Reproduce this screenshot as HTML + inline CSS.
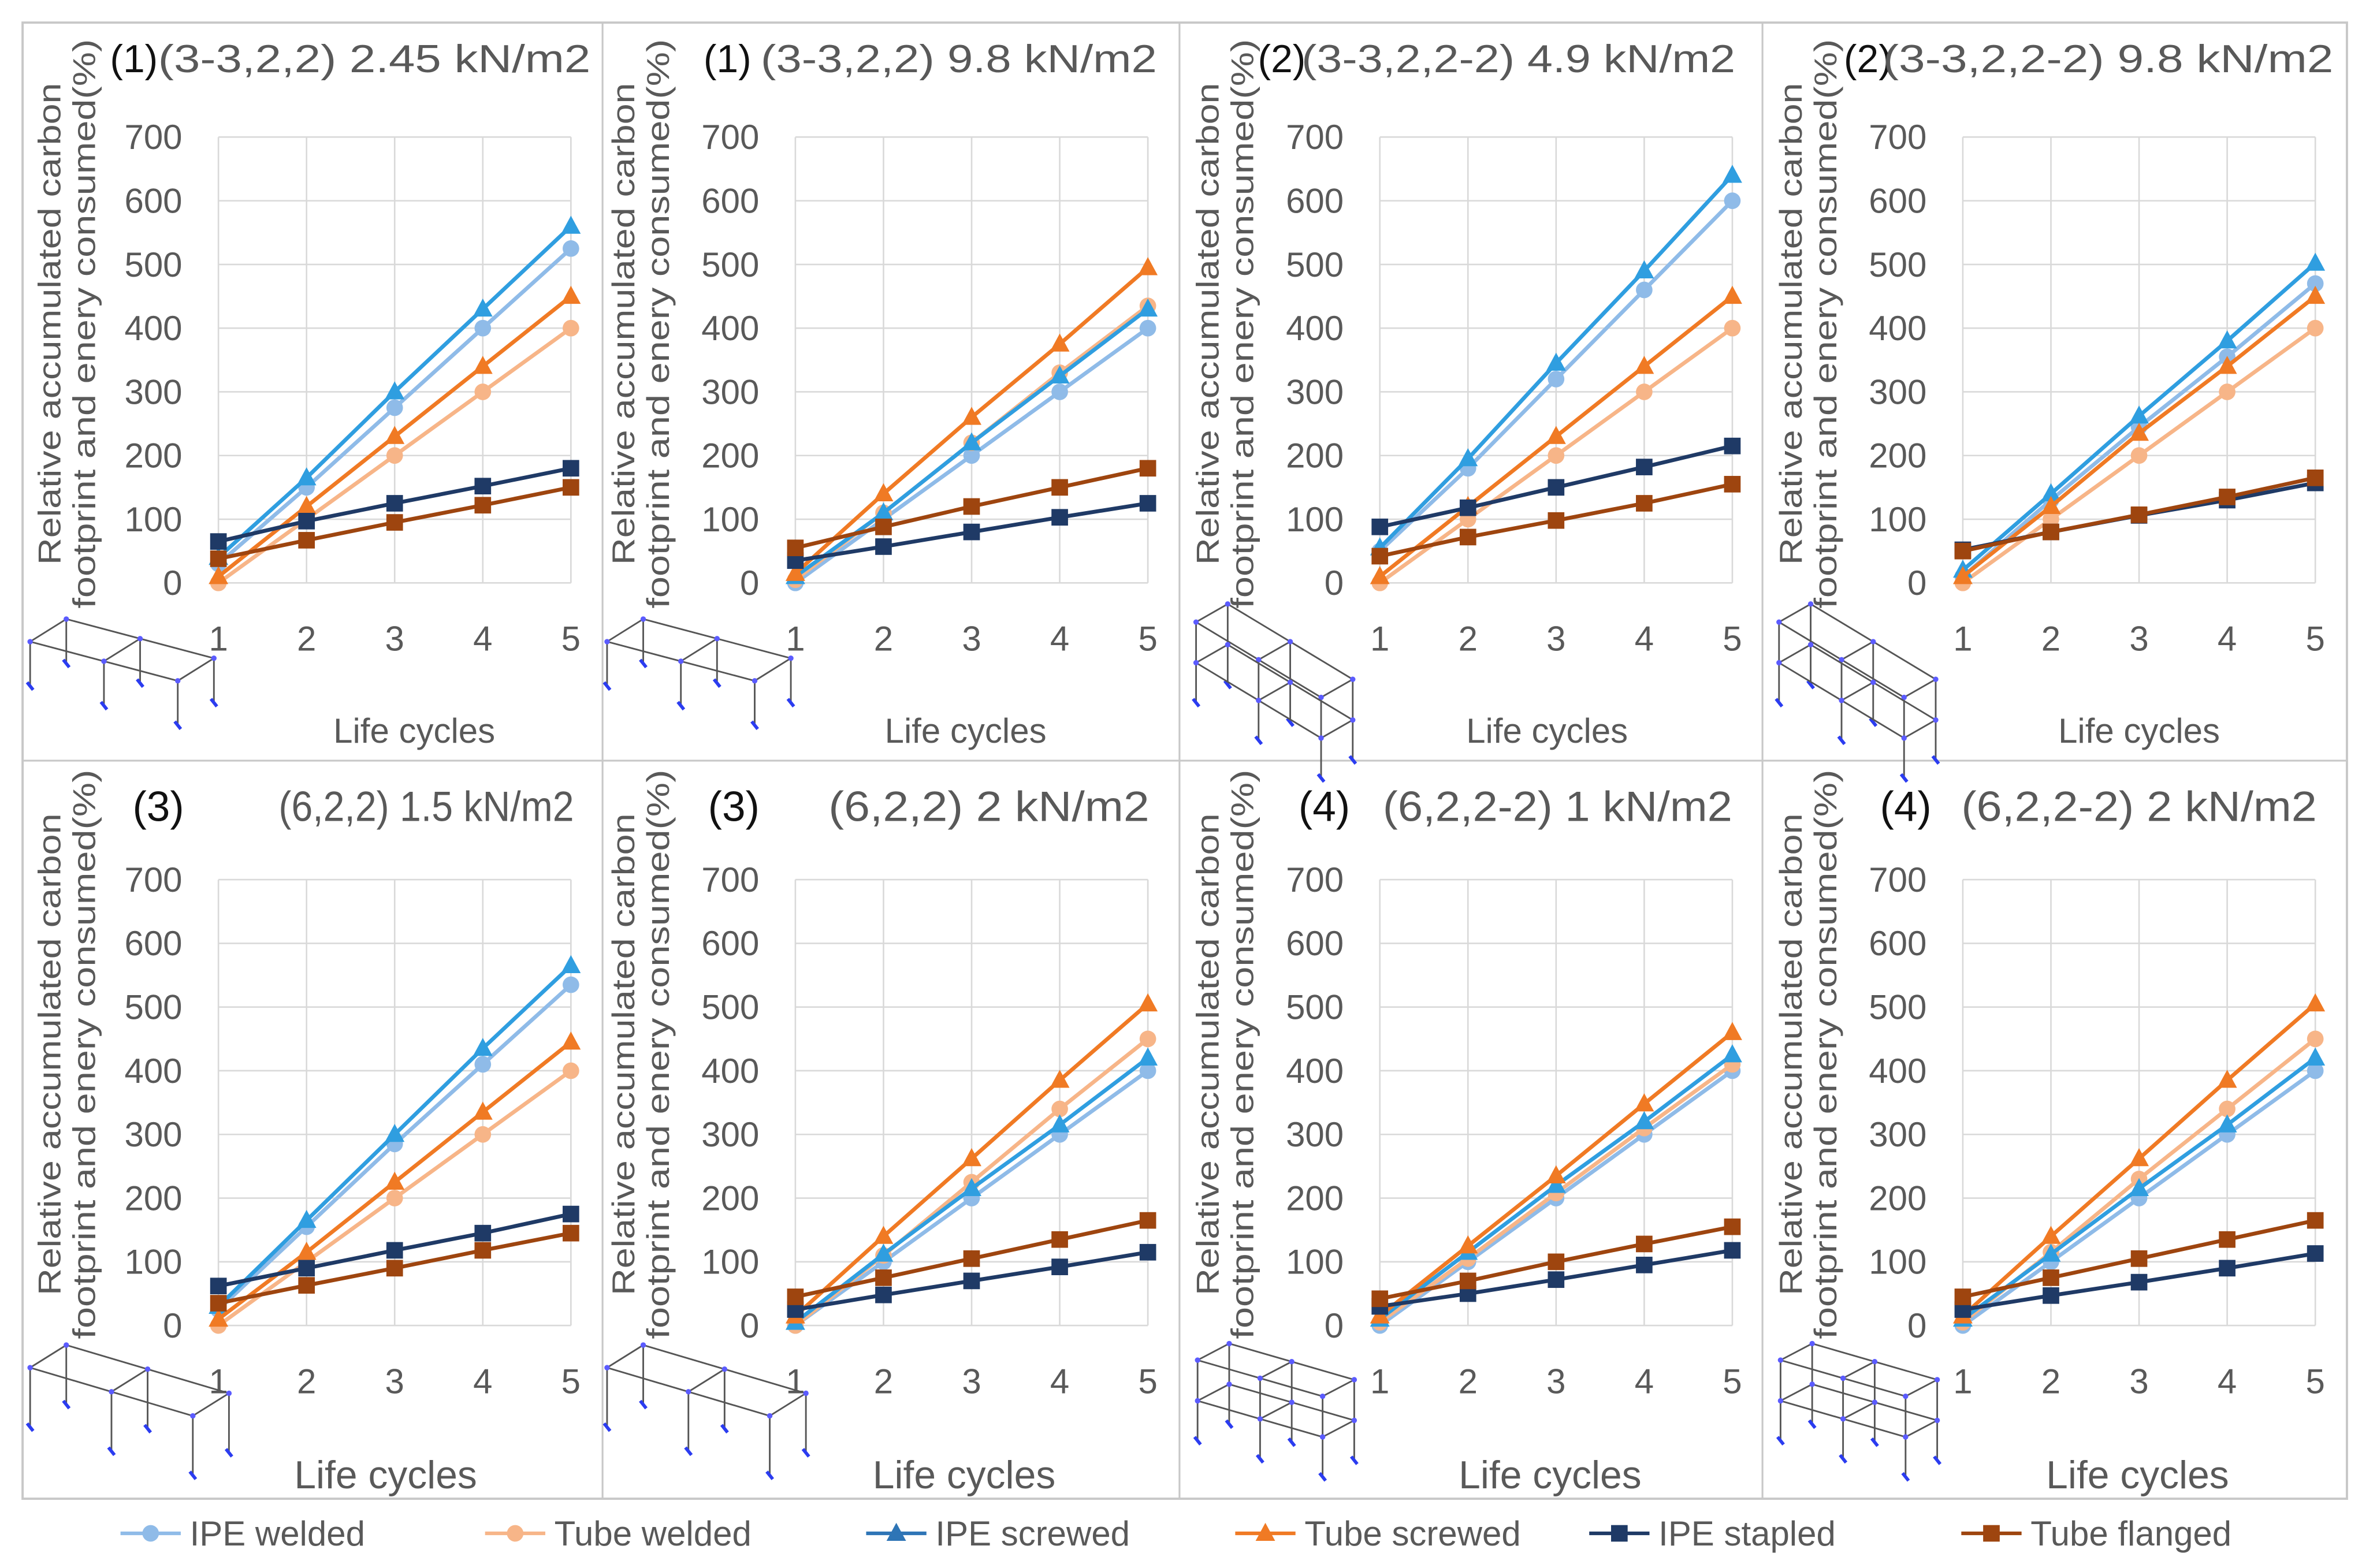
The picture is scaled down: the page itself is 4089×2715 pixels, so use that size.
<!DOCTYPE html>
<html><head><meta charset="utf-8"><style>
html,body{margin:0;padding:0;background:#fff;}
svg{display:block;}
text{font-family:"Liberation Sans",sans-serif;}
</style></head><body>
<svg id="fig" width="4089" height="2715" viewBox="0 0 1568 1041" preserveAspectRatio="none" xmlns="http://www.w3.org/2000/svg">
<rect x="0" y="0" width="1568" height="1041" fill="#fff"/>
<rect x="15" y="15" width="1543" height="980" fill="none" stroke="#c8c8c8" stroke-width="1.5"/>
<line x1="400" y1="15" x2="400" y2="995" stroke="#c8c8c8" stroke-width="1.2"/>
<line x1="783" y1="15" x2="783" y2="995" stroke="#c8c8c8" stroke-width="1.2"/>
<line x1="1170" y1="15" x2="1170" y2="995" stroke="#c8c8c8" stroke-width="1.2"/>
<line x1="15" y1="505" x2="1558" y2="505" stroke="#c8c8c8" stroke-width="1.2"/>
<g id="panels"></g>
<g id="legend"></g>
</svg>
<script>
const NS="http://www.w3.org/2000/svg";
const xCategories=[1,2,3,4,5];
const yTicks=[0,100,200,300,400,500,600,700];
const seriesNames=["IPE welded","Tube welded","IPE screwed","Tube screwed","IPE stapled","Tube flanged"];
const seriesColors=["#8fbbe8","#f7b588","#2f9ee0","#f07a24","#1f3a66","#9e450f"];
const seriesMarkers=["circle","circle","triangle","triangle","square","square"];
const panelTitlesNum=["(1)","(1)","(2)","(2)","(3)","(3)","(4)","(4)"];
const panelTitlesText=["(3-3,2,2) 2.45 kN/m2","(3-3,2,2) 9.8 kN/m2","(3-3,2,2-2) 4.9 kN/m2","(3-3,2,2-2) 9.8 kN/m2","(6,2,2) 1.5 kN/m2","(6,2,2) 2 kN/m2","(6,2,2-2) 1 kN/m2","(6,2,2-2) 2 kN/m2"];
const p1Values=[[30,150,275,400,525],[0,100,200,300,400],[40,165,300,430,560],[10,120,230,340,450],[65,97,125,152,180],[38,67,95,122,150]];
const p2Values=[[0,100,200,300,400],[5,110,220,330,435],[10,110,220,325,430],[15,140,260,375,495],[35,57,80,103,125],[55,88,120,150,180]];
const p3Values=[[50,180,320,460,600],[0,100,200,300,400],[55,195,345,490,640],[10,120,230,340,450],[88,118,150,182,215],[42,72,98,125,155]];
const p4Values=[[10,130,245,355,470],[0,100,200,300,400],[20,140,262,380,502],[10,120,235,340,450],[52,80,106,130,157],[50,80,107,135,165]];
const p5Values=[[25,155,285,410,535],[0,100,200,300,400],[30,165,300,435,565],[10,115,225,335,445],[62,90,118,145,175],[35,63,90,118,145]];
const p6Values=[[0,100,200,300,400],[0,110,225,340,450],[5,112,215,315,420],[15,140,262,385,505],[25,48,70,92,115],[45,75,105,135,165]];
const p7Values=[[0,100,200,300,400],[5,105,208,310,410],[10,115,220,320,425],[15,125,235,348,460],[30,50,72,95,118],[42,70,100,128,155]];
const p8Values=[[0,100,200,300,400],[5,115,230,340,450],[10,112,215,315,420],[15,140,262,385,505],[25,47,68,90,113],[45,75,105,135,165]];
const panelValues=[p1Values,p2Values,p3Values,p4Values,p5Values,p6Values,p7Values,p8Values];

const colOff=[0,383,771,1158];
const colTitleNumX=[73,467,835,1224];
const colTitleTxt=[[105,392],[505,768],[864,1152],[1250,1549]];
const botNumX=[88,470,862,1248];
const botTxt=[[185,381],[550,763],[918,1150],[1302,1538]];
// icon geometry: origin, long vector, short vector, story height, stories
const icons=[
 [20,426,98,26,24,-15,30,1],[403,426,98,26,24,-15,30,1],
 [794,413,83,50,21,-12,27,2],[1181,413,83,50,21,-12,27,2],
 [20,908,108,32,24,-15,40,1],[403,908,108,32,24,-15,40,1],
 [795,903,83,24,21,-11,27,2],[1182,903,83,24,21,-11,27,2]];

function el(tag,attrs,parent){const e=document.createElementNS(NS,tag);for(const k in attrs)e.setAttribute(k,attrs[k]);if(parent)parent.appendChild(e);return e;}

function marker(g,type,x,y,color,s){
  let m;
  if(type==="circle")m=el("circle",{cx:x,cy:y,r:s*0.55,fill:color},g);
  else if(type==="square")m=el("rect",{x:x-s*0.55,y:y-s*0.55,width:s*1.1,height:s*1.1,fill:color},g);
  else m=el("polygon",{points:`${x},${y-s*0.7} ${x+s*0.65},${y+s*0.5} ${x-s*0.65},${y+s*0.5}`,fill:color},g);
  return m;
}

function drawFrame(g,c){
  const [ox,oy,lx,ly,sx,sy,h,st]=c;
  const nb=2, col="#555";
  const pts=[];
  for(let i=0;i<=nb;i++)for(let j=0;j<2;j++)pts.push([ox+lx*i/nb+sx*j,oy+ly*i/nb+sy*j,i,j]);
  const H=h*st;
  pts.forEach(p=>{
    el("line",{x1:p[0],y1:p[1],x2:p[0],y2:p[1]+H,stroke:col,"stroke-width":1.1},g);
    el("line",{x1:p[0]-2,y1:p[1]+H-3,x2:p[0]+2,y2:p[1]+H+2,stroke:"#2b3cf0","stroke-width":2.2},g);
  });
  for(let s=0;s<st;s++){
    const off=s*h;
    for(let j=0;j<2;j++){const a=pts.find(p=>p[2]===0&&p[3]===j),b=pts.find(p=>p[2]===nb&&p[3]===j);
      el("line",{x1:a[0],y1:a[1]+off,x2:b[0],y2:b[1]+off,stroke:col,"stroke-width":1.1},g);}
    for(let i=0;i<=nb;i++){const a=pts.find(p=>p[2]===i&&p[3]===0),b=pts.find(p=>p[2]===i&&p[3]===1);
      el("line",{x1:a[0],y1:a[1]+off,x2:b[0],y2:b[1]+off,stroke:col,"stroke-width":1.1},g);}
    pts.forEach(p=>el("circle",{cx:p[0],cy:p[1]+off,r:1.8,fill:"#5b5bff"},g));
  }
}

const root=document.getElementById("panels");
for(let p=0;p<8;p++){
  const col=p%4,row=Math.floor(p/4);
  const g=el("g",{},root);
  
  
  const off=colOff[col];
  const X1=145+off,X5=379+off;
  const Y0=row?880:387, Y700=row?584:91;
  const xs=v=>X1+(v-1)*(X5-X1)/4;
  const ys=v=>Y0-(v/700)*(Y0-Y700);
  const grid=el("g",{},g);
  
  
  yTicks.forEach(t=>{
    el("line",{x1:X1,y1:ys(t),x2:X5,y2:ys(t),stroke:"#d9d9d9","stroke-width":1},grid);
    const tl=el("text",{x:X1-24,y:ys(t)+8,"text-anchor":"end","font-size":23,fill:"#595959"},g);
    tl.textContent=t;
    
    
  });
  xCategories.forEach(c=>{
    el("line",{x1:xs(c),y1:Y700,x2:xs(c),y2:Y0,stroke:"#d9d9d9","stroke-width":1},grid);
    const tl=el("text",{x:xs(c),y:row?925:432,"text-anchor":"middle","font-size":23,fill:"#595959"},g);
    tl.textContent=c;
    
    
  });
  // icon (behind text)
  const ig=el("g",{},g);
  
  
  drawFrame(ig,icons[p]);
  const cy=row?700:215, ax=33+off-(col===0?0:2);
  const t1=el("text",{transform:`translate(${ax+7},${cy}) rotate(-90)`,"text-anchor":"middle","font-size":21,fill:"#595959",textLength:320,lengthAdjust:"spacingAndGlyphs"},g);
  t1.textContent="Relative accumulated carbon";
  
  
  const t2=el("text",{transform:`translate(${ax+30},${cy}) rotate(-90)`,"text-anchor":"middle","font-size":21,fill:"#595959",textLength:378,lengthAdjust:"spacingAndGlyphs"},g);
  t2.textContent="footprint and enery consumed(%)";
  
  
  const nx=row?botNumX[col]:colTitleNumX[col], tx=row?botTxt[col]:colTitleTxt[col], ty=row?545:48;
  const fs=row?28:26;
  const tn=el("text",{x:nx,y:ty,"font-size":fs,fill:"#111"},g);
  tn.textContent=panelTitlesNum[p];
  
  
  const tt=el("text",{x:tx[0],y:ty,"font-size":fs,fill:"#595959",textLength:tx[1]-tx[0],lengthAdjust:"spacingAndGlyphs"},g);
  tt.textContent=panelTitlesText[p];
  
  
  const lc=el("text",{x:(row?[256,640,1029,1419]:[275,641,1027,1420])[col],y:row?988:493,"text-anchor":"middle","font-size":row?26:23,fill:"#595959"},g);
  lc.textContent="Life cycles";
  
  
  const vals=panelValues[p];
  vals.forEach((sv,si)=>{
    const sg=el("g",{},g);
    
    
    const d=sv.map((v,i)=>(i?"L":"M")+xs(xCategories[i])+","+ys(v)).join(" ");
    el("path",{d:d,fill:"none",stroke:seriesColors[si],"stroke-width":2.6},sg);
    sv.forEach((v,i)=>{
      const m=marker(sg,seriesMarkers[si],xs(xCategories[i]),ys(v),seriesColors[si],10);
      
      
    });
  });
}
const lg=document.getElementById("legend");
const legX=[100,342,595,840,1075,1322];
const legColors=["#8fbbe8","#f7b588","#2e75b6","#f07a24","#1f3a66","#9e450f"];
seriesNames.forEach((n,i)=>{
  const g=el("g",{},lg);
  
  
  el("line",{x1:legX[i]-20,y1:1018,x2:legX[i]+20,y2:1018,stroke:legColors[i],"stroke-width":2.4},g);
  marker(g,seriesMarkers[i],legX[i],1018,legColors[i],10);
  const t=el("text",{x:legX[i]+26,y:1026,"font-size":23,fill:"#595959"},g);
  t.textContent=n;
});
</script>
</body></html>
